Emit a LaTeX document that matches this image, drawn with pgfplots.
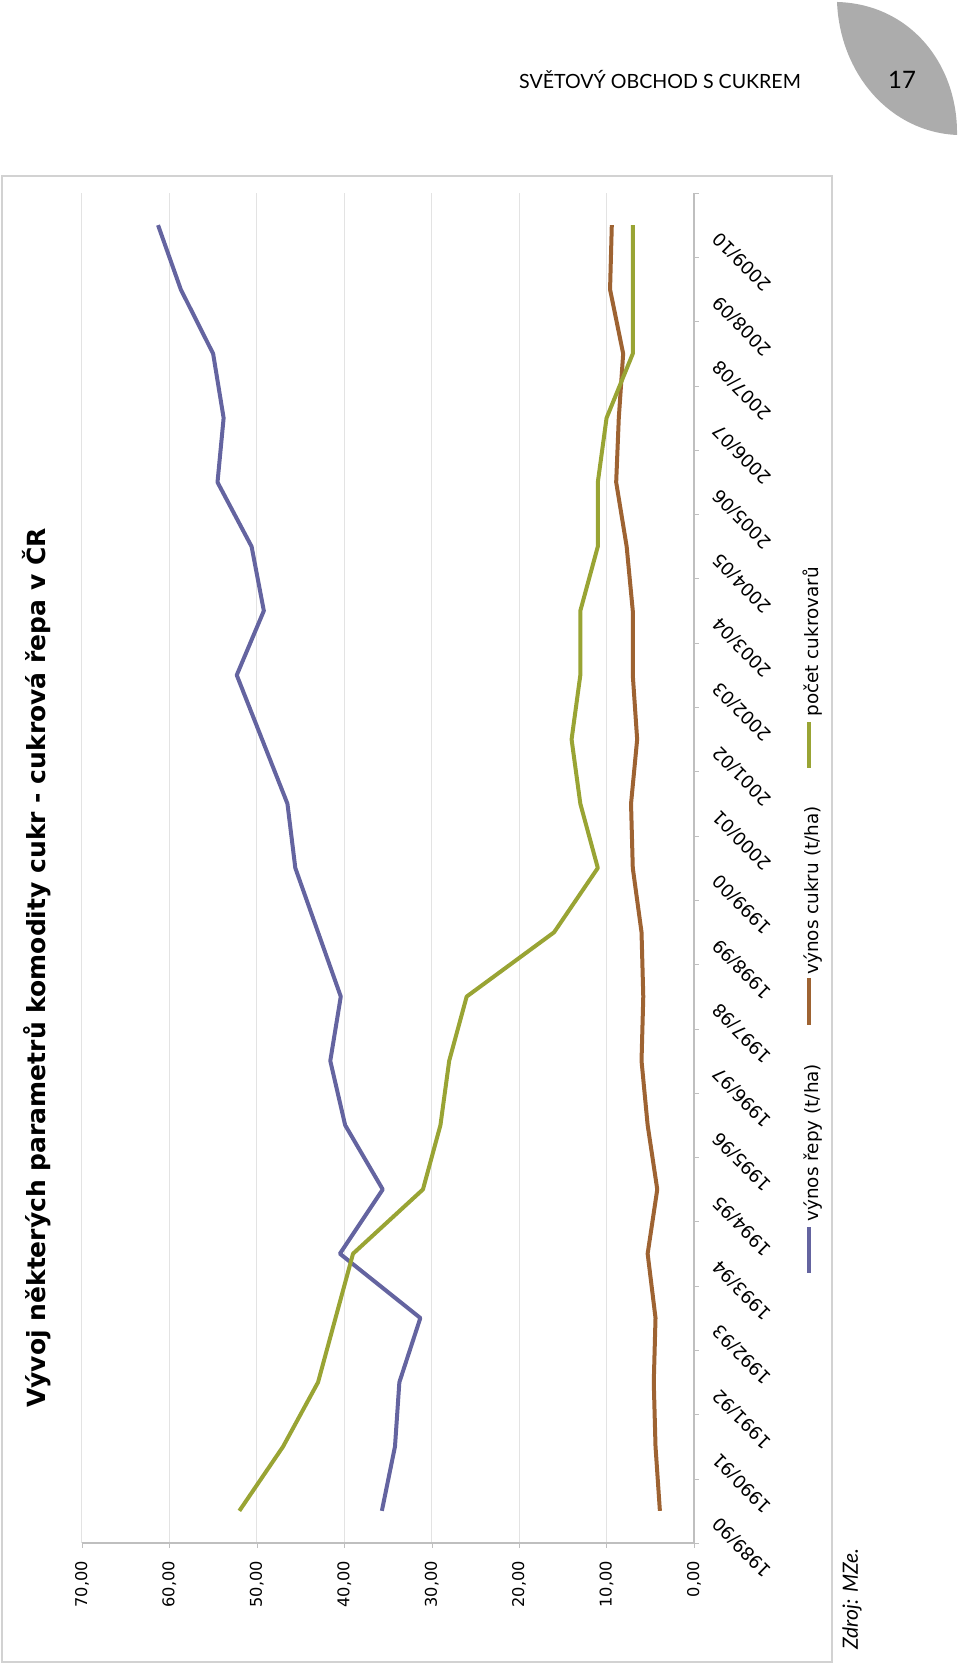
\documentclass[border=0pt]{standalone}
\usepackage{fontspec}
\setmainfont{DejaVu Sans}
\newfontfamily\gill{Lato}
\usepackage{pgfplots}
\pgfplotsset{compat=1.18}

\definecolor{repa}{RGB}{100,100,160}
\definecolor{cukr}{RGB}{158,99,50}
\definecolor{cukrovary}{RGB}{153,164,52}
\definecolor{frame}{RGB}{210,210,210}
\definecolor{leaf}{RGB}{172,172,172}

\begin{document}
\begin{tikzpicture}
\useasboundingbox (0,0) rectangle (480pt,832pt);

% page header
\fill[leaf] (418.5pt,831pt) .. controls (420pt,795pt) and (445pt,766pt) .. (478.5pt,764.5pt)
  .. controls (479pt,800pt) and (455pt,830pt) .. cycle;
\node[font=\gill\fontsize{12}{14}\selectfont] at (451pt,792pt) {17};
\node[font=\gill\fontsize{9.8}{12}\selectfont] at (330pt,792pt) {SVĚTOVÝ OBCHOD S CUKREM};

% chart frame
\draw[frame, line width=0.8pt] (1pt,744pt) rectangle (416pt,1pt);

\begin{axis}[
    at={(41pt,60.5pt)}, anchor=south west,
    scale only axis, width=306pt, height=675pt,
    x dir=reverse,
    xmin=0, xmax=70, ymin=-0.5, ymax=20.5,
    axis line style={draw=none},
    tick align=outside,
    xtick={0,10,...,70},
    xtick pos=bottom,
    ytick pos=right,
    yticklabel pos=right,
    xmajorgrids,
    grid style={gray!22, line width=0.5pt},
    major tick length=2.5pt,
    minor tick length=2.5pt,
    x tick style={gray!50},
    y tick style={draw=none},
    minor y tick style={gray!50, draw},
    minor ytick={-0.5,0.5,...,20.5},
    xticklabel={\pgfmathprintnumber[fixed,fixed zerofill,precision=2,use comma,assume math mode=true]{\tick}},
    xticklabel style={font=\fontsize{8.1}{10}\selectfont, rotate=90, anchor=east, xshift=-3pt},
    ytick={0,...,20},
    yticklabels={1989/90,1990/91,1991/92,1992/93,1993/94,1994/95,1995/96,1996/97,1997/98,1998/99,1999/00,2000/01,2001/02,2002/03,2003/04,2004/05,2005/06,2006/07,2007/08,2008/09,2009/10},
    yticklabel style={font=\fontsize{9}{10}\selectfont, xshift=6pt, yshift=-2.5pt, rotate=135, anchor=east},
    clip=false,
]
\draw[gray!50, line width=0.7pt] (axis cs:0,-0.5) -- (axis cs:0,20.5);
\draw[gray!50, line width=0.7pt] (axis cs:70,-0.5) -- (axis cs:0,-0.5);

% vynos repy (t/ha)
\addplot[repa, line width=2pt, line join=round] coordinates {
(35.7,0) (34.2,1) (33.7,2) (31.3,3) (40.5,4) (35.6,5) (39.9,6) (41.6,7) (40.4,8) (43.0,9)
(45.6,10) (46.5,11) (49.4,12) (52.3,13) (49.2,14) (50.6,15) (54.5,16) (53.8,17) (55.0,18) (58.7,19) (61.3,20)};
% vynos cukru (t/ha)
\addplot[cukr, line width=2pt, line join=round] coordinates {
(3.9,0) (4.4,1) (4.6,2) (4.4,3) (5.3,4) (4.2,5) (5.3,6) (6.0,7) (5.8,8) (6.0,9)
(7.0,10) (7.2,11) (6.5,12) (7.0,13) (7.0,14) (7.7,15) (8.9,16) (8.6,17) (8.1,18) (9.6,19) (9.4,20)};
% pocet cukrovaru
\addplot[cukrovary, line width=2pt, line join=round] coordinates {
(52,0) (47,1) (43,2) (41,3) (39,4) (31,5) (29,6) (28,7) (26,8) (16,9)
(11,10) (13,11) (14,12) (13,13) (13,14) (11,15) (11,16) (10,17) (7,18) (7,19) (7,20)};
\end{axis}

% title
\node[rotate=90, font=\bfseries\fontsize{12.5}{15}\selectfont] at (18.5pt,348pt)
  {Vývoj některých parametrů komodity cukr - cukrová řepa v ČR};

% legend
\draw[repa, line width=2pt] (404.5pt,195.5pt) -- (404.5pt,218.5pt);
\node[rotate=90, anchor=west, font=\fontsize{9.2}{11}\selectfont, inner sep=0pt] at (406.5pt,221pt) {výnos řepy (t/ha)};
\draw[cukr, line width=2pt] (404.5pt,319.5pt) -- (404.5pt,343pt);
\node[rotate=90, anchor=west, font=\fontsize{9.2}{11}\selectfont, inner sep=0pt] at (406.5pt,344.5pt) {výnos cukru (t/ha)};
\draw[cukrovary, line width=2pt] (404.5pt,448pt) -- (404.5pt,471pt);
\node[rotate=90, anchor=west, font=\fontsize{9.2}{11}\selectfont, inner sep=0pt] at (406.5pt,473.5pt) {počet cukrovarů};

% source
\node[rotate=90, anchor=west, font=\gill\itshape\fontsize{10.5}{12}\selectfont, inner sep=0pt] at (426pt,7pt) {Zdroj: MZe.};
\end{tikzpicture}
\end{document}
